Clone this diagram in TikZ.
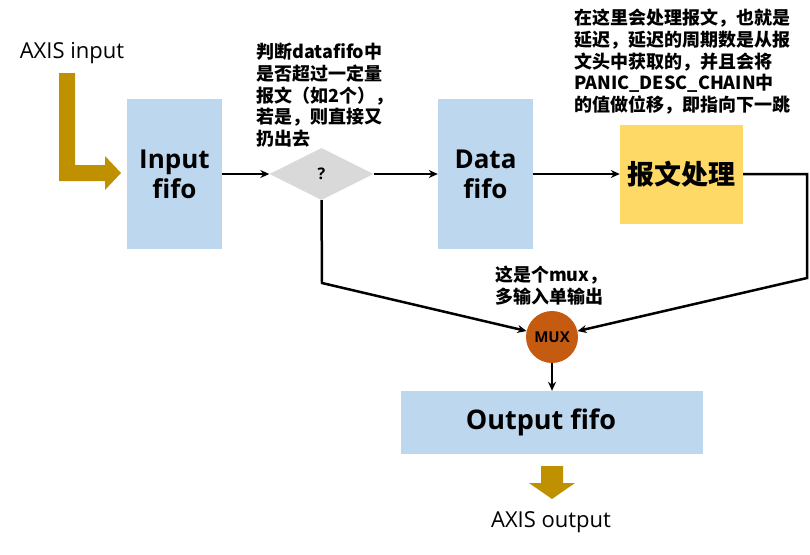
\documentclass[tikz,border=0pt]{standalone}
\usepackage{fontspec}
\setmainfont{Open Sans}
\newfontfamily\cjk{Noto Sans CJK SC}
\usetikzlibrary{shapes.geometric,arrows.meta}
\definecolor{l_blue}{HTML}{BDD7EE}
\definecolor{l_gray}{HTML}{D9D9D9}
\definecolor{l_yellow}{HTML}{FFD966}
\definecolor{d_orange}{HTML}{C55A11}
\definecolor{d_gold}{HTML}{BF9000}

\begin{document}
\begin{tikzpicture}[x=1pt,y=-1pt,
  fifo/.style={fill=l_blue,minimum width=95pt,minimum height=150pt,align=center,inner sep=0pt,font=\bfseries\fontsize{26}{30}\selectfont},
  note/.style={anchor=north west,align=left,inner sep=0pt,font=\cjk\bfseries\fontsize{18}{21.7}\selectfont},
  flow/.style={line width=2.5pt,-{Stealth[length=9pt,width=8pt]}}]
\useasboundingbox (0,0) rectangle (810,554);

% input side
\node (axisin) at (72,53) {\fontsize{22}{26}\selectfont AXIS input};
\fill[d_gold] (59,73) -- (75,73) -- (75,165) -- (105,165) -- (105,156) -- (121,173)
  -- (105,190) -- (105,181) -- (59,181) -- cycle;

\node[fifo] (infifo) at (174.5,174) {Input\\fifo};
\node[diamond,aspect=2,fill=l_gray,minimum width=104pt,minimum height=52pt,inner sep=0pt,
  font=\bfseries\fontsize{16}{18}\selectfont] (check) at (321.5,174) {?};
\node[fifo] (datafifo) at (485.5,174) {Data\\fifo};
\node[fill=l_yellow,minimum width=123pt,minimum height=99pt,
  font=\cjk\bfseries\fontsize{27}{30}\selectfont] (proc) at (681.5,174) {报文处理};

\node[note] (checknote) at (256,43) {判断datafifo中\\是否超过一定量\\报文（如2个），\\若是，则直接又\\扔出去};
\node[note] (procnote) at (574,9) {在这里会处理报文，也就是\\延迟，延迟的周期数是从报\\文头中获取的，并且会将\\PANIC\_DESC\_CHAIN中\\的值做位移，即指向下一跳};

% output side
\node[circle,fill=d_orange,minimum size=52pt,inner sep=0pt,
  font=\bfseries\fontsize{15}{18}\selectfont] (mux) at (552,337) {MUX};
\node[note] (muxnote) at (495,266) {这是个mux，\\多输入单输出};
\node[fill=l_blue,minimum width=302pt,minimum height=63pt,
  font=\bfseries\fontsize{27}{30}\selectfont] (outfifo) at (552,422.5) {Output fifo\hspace*{22pt}};

\fill[d_gold] (541,466) -- (563,466) -- (563,483) -- (575,483) -- (552,499) -- (529,483)
  -- (541,483) -- cycle;
\node (axisout) at (551,522) {\fontsize{22}{26}\selectfont AXIS output};

\coordinate (lbend) at (322,283);
\coordinate (rtop) at (807,174);
\coordinate (rbend) at (807,278);

\draw[flow] (infifo.east) -- (check.west);
\draw[flow] (check.east) -- (datafifo.west);
\draw[flow] (datafifo.east) -- (proc.west);
\draw[flow] (check.south) -- (lbend) -- (mux);
\draw[flow] (proc.east) -- (rtop) -- (rbend) -- (mux);
\draw[flow] (mux) -- (outfifo);

\end{tikzpicture}
\end{document}
